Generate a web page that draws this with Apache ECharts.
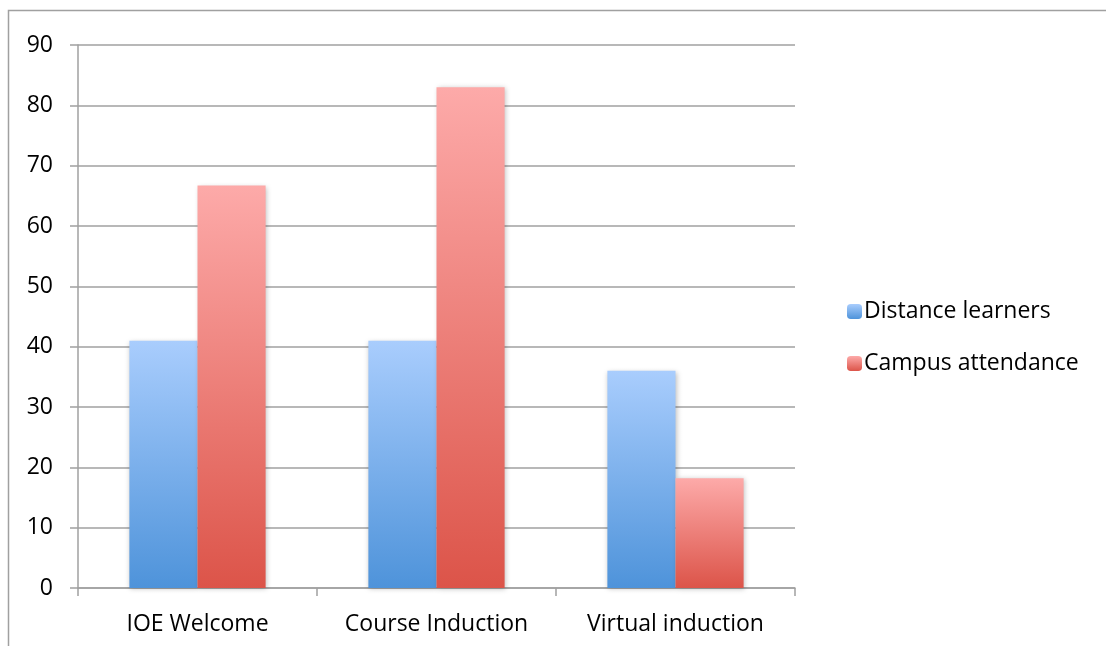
<!DOCTYPE html>
<html><head><meta charset="utf-8">
<script src="https://cdn.jsdelivr.net/npm/echarts@6/dist/echarts.min.js"></script>
<style>html,body{margin:0;padding:0;background:#fff}#c{width:1106px;height:646px}</style>
</head><body><div id="c"></div>
<script>
const categories = ['IOE Welcome', 'Course Induction', 'Virtual induction'];
const distanceLearners = [41, 41, 36];
const campusAttendance = [66.7, 83, 18.2];
const seriesNames = ['Distance learners', 'Campus attendance'];

const font = '"Open Sans", "Liberation Sans", sans-serif';
function grad(top, bottom) {
  return new echarts.graphic.LinearGradient(0, 0, 0, 1, [{offset: 0, color: top}, {offset: 1, color: bottom}]);
}
const chart = echarts.init(document.getElementById('c'), null, {renderer: 'canvas'});
chart.setOption({
  animation: false,
  backgroundColor: '#fff',
  graphic: [{type: 'rect', shape: {x: 8.5, y: 10.5, width: 1200, height: 700}, style: {fill: 'none', stroke: '#a0a0a0', lineWidth: 1.5}, z: -1}],
  grid: {left: 78, right: 311, top: 45, bottom: 58, containLabel: false},
  legend: {
    orient: 'vertical', left: 842, top: 295, itemWidth: 15, itemHeight: 15, itemGap: 29,
    textStyle: {fontFamily: font, fontSize: 23, color: '#000', padding: [0, 0, 0, -3]},
    data: seriesNames
  },
  xAxis: {
    type: 'category', data: categories,
    axisLine: {lineStyle: {color: '#a0a0a0', width: 1.5}},
    axisTick: {show: true, length: 8, lineStyle: {color: '#a0a0a0', width: 1.5}},
    axisLabel: {fontFamily: font, fontSize: 23, color: '#000', margin: 25}
  },
  yAxis: {
    type: 'value', min: 0, max: 90, interval: 10,
    axisLine: {show: true, lineStyle: {color: '#a0a0a0', width: 1.5}},
    axisTick: {show: true, length: 8, lineStyle: {color: '#a0a0a0', width: 1.5}},
    splitLine: {lineStyle: {color: '#a0a0a0', width: 1.5}},
    axisLabel: {fontFamily: font, fontSize: 23, color: '#000', margin: 25}
  },
  series: [
    {name: seriesNames[0], type: 'bar', data: distanceLearners, barGap: '0%', barCategoryGap: '43%',
     itemStyle: {color: grad('#a9cdfd', '#4e93da'), shadowBlur: 5, shadowColor: 'rgba(0,0,0,0.25)', shadowOffsetX: 1, shadowOffsetY: 1}},
    {name: seriesNames[1], type: 'bar', data: campusAttendance,
     itemStyle: {color: grad('#fdaaa9', '#dc5449'), shadowBlur: 5, shadowColor: 'rgba(0,0,0,0.25)', shadowOffsetX: 1, shadowOffsetY: 1}}
  ]
});
</script></body></html>
